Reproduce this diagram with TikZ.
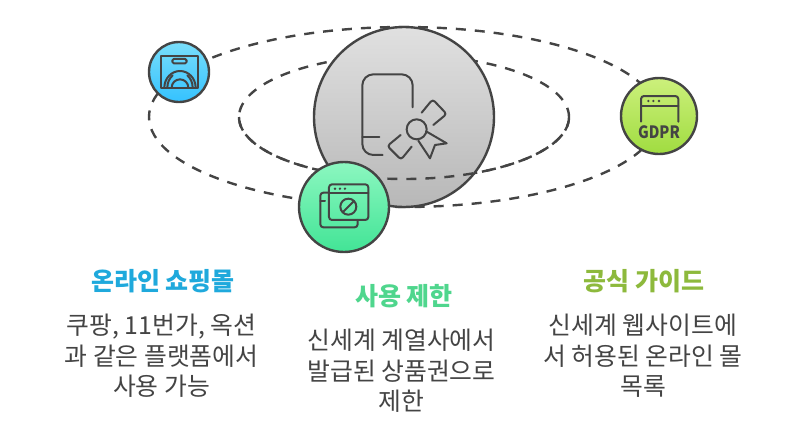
\documentclass[tikz,border=0pt]{standalone}
\usepackage{fontspec}
\setmainfont{Noto Sans CJK KR}
\definecolor{inkgray}{HTML}{444444}
\definecolor{shopcolor}{HTML}{1FA9DC}
\definecolor{limitcolor}{HTML}{4FD68D}
\definecolor{guidecolor}{HTML}{8DB93C}
\tikzset{
  orbit/.style={draw=inkgray,line width=2.4pt,dash pattern=on 10pt off 9pt},
  bubble/.style={circle,draw=inkgray,line width=2.4pt,inner sep=0pt},
  glyph/.style={draw=inkgray,line width=2pt,line cap=round,line join=round},
  heading/.style={font=\fontsize{25}{28}\selectfont\bfseries,align=center},
  blurb/.style={font=\fontsize{24.8}{30.5}\selectfont,text=inkgray,align=center}
}
\begin{document}
\begin{tikzpicture}[x=1pt,y=-1pt]
\useasboundingbox (0,0) rectangle (787,437);
\coordinate (hub) at (404,117);
% orbits
\draw [orbit] (hub) ellipse [x radius=255,y radius=90];
\draw [orbit] (hub) ellipse [x radius=165,y radius=62];
\node [bubble,minimum size=180pt,top color=black!12,bottom color=black!28] (core) at (hub) {};
\draw [orbit] (hub) ++(-165,0) arc [start angle=180,end angle=0,x radius=165,y radius=62];
\node [bubble,minimum size=60pt,top color={rgb,255:red,122;green,222;blue,250},bottom color={rgb,255:red,52;green,194;blue,255}] (shop) at (179,72) {};
\node [bubble,minimum size=90pt,top color={rgb,255:red,140;green,247;blue,192},bottom color={rgb,255:red,66;green,228;blue,150}] (limit) at (344,207) {};
\node [bubble,minimum size=76pt,top color={rgb,255:red,204;green,240;blue,124},bottom color={rgb,255:red,160;green,220;blue,64}] (guide) at (659,116) {};
% icon in the middle
\begin{scope}[shift={(300,20)},scale=0.3333]
\draw [glyph,rounded corners=11pt] (338,262) -- (338,163) -- (187,163) -- (187,405) -- (248,405);
\draw [glyph] (187,352) -- (238,352);
\draw [glyph] (350,328) circle (30);
\draw [glyph,rounded corners=3pt] (365,278) -- (398,238) -- (440,282) -- (400,315);
\draw [glyph,rounded corners=3pt] (302,345) -- (262,378) -- (303,419) -- (335,380);
\draw [glyph] (380,335) -- (440,370) -- (405,375) -- (390,415) -- (355,362);
\end{scope}
% icon of the shop
\begin{scope}[shift={(130,20)},scale=0.3333]
\draw [glyph] (92,107) rectangle (205,203);
\draw [glyph,rounded corners=1.5pt] (127,117) rectangle (170,130);
\draw [glyph] (103,203) arc [start angle=180,end angle=360,x radius=47,y radius=50];
\draw [glyph] (125,203) arc [start angle=180,end angle=360,x radius=25,y radius=25];
\draw [glyph] (112,203) .. controls (112,188) and (118,175) .. (128,166);
\draw [glyph] (188,203) .. controls (188,188) and (182,175) .. (172,166);
\end{scope}
% icon of the limit
\begin{scope}[shift={(285,150)},scale=0.3333]
\draw [glyph,rounded corners=3pt] (132,103) rectangle (250,210);
\draw [glyph] (132,128) -- (250,128);
\foreach \dotx in {150,165,180} \fill [inkgray] (\dotx,116) circle (4);
\draw [glyph] (190,170) circle (24);
\draw [glyph] (173,187) -- (207,153);
\draw [glyph,rounded corners=3pt] (132,128) -- (106,128) -- (106,232) -- (218,232) -- (218,210);
\draw [glyph] (106,152) -- (120,152);
\end{scope}
% icon of the guide
\begin{scope}[shift={(610,70)},scale=0.3333]
\draw [glyph,rounded corners=3pt] (93,155) -- (93,78) -- (205,78) -- (205,155);
\draw [glyph] (93,108) -- (205,108);
\foreach \dotx in {115,130,147} \fill [inkgray] (\dotx,93) circle (4);
\end{scope}
\node [text=inkgray,font=\fontsize{17}{17}\selectfont\bfseries,inner sep=0pt,xscale=0.86] (gdpr) at (659,132) {GDPR};
% labels
\node [heading,text=shopcolor] (shoptitle) at (163,281) {온라인 쇼핑몰};
\node [blurb] (shoptext) at (161.5,356) {쿠팡, 11번가, 옥션\\과 같은 플랫폼에서\\사용 가능};
\node [heading,text=limitcolor] (limittitle) at (404,296) {사용 제한};
\node [blurb] (limittext) at (401.5,371) {신세계 계열사에서\\발급된 상품권으로\\제한};
\node [heading,text=guidecolor] (guidetitle) at (644,281) {공식 가이드};
\node [blurb] (guidetext) at (643,356) {신세계 웹사이트에\\서 허용된 온라인 몰\\목록};
\end{tikzpicture}
\end{document}
